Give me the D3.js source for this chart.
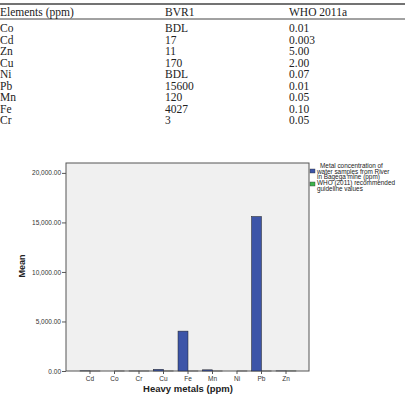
<!DOCTYPE html>
<html>
<head>
<meta charset="utf-8">
<script src="https://cdn.jsdelivr.net/npm/d3@7"></script>
<style>
body { margin: 0; background: #fff; }
</style>
</head>
<body>
<div id="chart"></div>
<script>
// table data
var tableHeader = ["Elements (ppm)", "BVR1", "WHO 2011a"];
var tableElements = ["Co", "Cd", "Zn", "Cu", "Ni", "Pb", "Mn", "Fe", "Cr"];
var tableBVR1 = ["BDL", "17", "11", "170", "BDL", "15600", "120", "4027", "3"];
var tableWHO = ["0.01", "0.003", "5.00", "2.00", "0.07", "0.01", "0.05", "0.10", "0.05"];

// chart data (BDL taken as 0)
var categories = ["Cd", "Co", "Cr", "Cu", "Fe", "Mn", "Ni", "Pb", "Zn"];
var metalValues = [17, 0, 3, 170, 4027, 120, 0, 15600, 11];
var whoValues = [0.003, 0.01, 0.05, 2.00, 0.10, 0.05, 0.07, 0.01, 5.00];
var yTicks = [0, 5000, 10000, 15000, 20000];
var legendLines = [
	["Metal concentration of", "water samples from River", "in Bagega mine (ppm)"],
	["WHO (2011) recommended", "guideline values"]
];

var width = 405, height = 396;

var svg = d3.select("#chart")
	.append("svg")
	.attr("width", width)
	.attr("height", height);

// ---- table ----
var colX = [0, 165, 289];
var table = svg.append("g")
	.style("font-family", "'Liberation Serif', serif")
	.style("font-size", "11.5px")
	.style("fill", "#222");

table.append("line")
	.attr("x1", 0).attr("x2", width)
	.attr("y1", 4).attr("y2", 4)
	.attr("stroke", "#444").attr("stroke-width", 1.5);
table.append("line")
	.attr("x1", 0).attr("x2", width)
	.attr("y1", 19).attr("y2", 19)
	.attr("stroke", "#444").attr("stroke-width", 1);

table.selectAll("text.head")
	.data(tableHeader)
	.enter().append("text")
	.attr("class", "head")
	.attr("x", function (d, i) { return colX[i]; })
	.attr("y", 16)
	.text(function (d) { return d; });

var rowY = d3.scaleLinear().domain([0, 1]).range([32, 43.5]);

var rows = table.selectAll("g.row")
	.data(tableElements)
	.enter().append("g")
	.attr("class", "row")
	.attr("transform", function (d, i) { return "translate(0," + rowY(i) + ")"; });

rows.append("text").attr("x", colX[0]).text(function (d) { return d; });
rows.append("text").attr("x", colX[1]).text(function (d, i) { return tableBVR1[i]; });
rows.append("text").attr("x", colX[2]).text(function (d, i) { return tableWHO[i]; });

// ---- bar chart ----
var plot = { left: 66, right: 309, top: 163, bottom: 371 };

var x = d3.scaleBand()
	.domain(categories)
	.range([77.75, 298.25])
	.padding(0);

var y = d3.scaleLinear()
	.domain([0, 21000])
	.range([plot.bottom, plot.top]);

var g = svg.append("g")
	.style("font-family", "Arial, 'Liberation Sans', sans-serif");

g.append("rect")
	.attr("x", plot.left)
	.attr("y", plot.top)
	.attr("width", plot.right - plot.left)
	.attr("height", plot.bottom - plot.top)
	.attr("fill", "#f0f0f0")
	.attr("stroke", "#555")
	.attr("stroke-width", 1);

var barW = 10;

// WHO bars (green), right half of each group
g.selectAll("rect.who")
	.data(whoValues)
	.enter().append("rect")
	.attr("class", "who")
	.attr("x", function (d, i) { return x(categories[i]) + x.bandwidth() / 2; })
	.attr("y", function (d) { return y(d); })
	.attr("width", barW)
	.attr("height", function (d) { return y(0) - y(d); })
	.attr("fill", "#3cb44b")
	.attr("stroke", "#222")
	.attr("stroke-width", 0.5);

// metal bars (blue), left half of each group
g.selectAll("rect.metal")
	.data(metalValues)
	.enter().append("rect")
	.attr("class", "metal")
	.attr("x", function (d, i) { return x(categories[i]) + x.bandwidth() / 2 - barW; })
	.attr("y", function (d) { return y(d); })
	.attr("width", barW)
	.attr("height", function (d) { return y(0) - y(d); })
	.attr("fill", "#3d55a8")
	.attr("stroke", "#222")
	.attr("stroke-width", 0.5);

// Y axis
var yAxis = d3.axisLeft(y)
	.tickValues(yTicks)
	.tickSize(4)
	.tickFormat(d3.format(",.2f"));

var yg = g.append("g")
	.attr("transform", "translate(" + plot.left + ",0)")
	.call(yAxis);
yg.select(".domain").remove();
yg.selectAll("line").attr("stroke", "#555");
yg.selectAll("text")
	.attr("x", -5)
	.style("font-size", "6.5px")
	.style("font-family", "Arial, 'Liberation Sans', sans-serif")
	.attr("fill", "#333");

// X axis
var xAxis = d3.axisBottom(x)
	.tickSize(3)
	.tickSizeOuter(0);

var xg = g.append("g")
	.attr("transform", "translate(0," + plot.bottom + ")")
	.call(xAxis);
xg.select(".domain").remove();
xg.selectAll("line").attr("stroke", "#555");
xg.selectAll("text")
	.attr("y", 5)
	.style("font-size", "6.5px")
	.style("font-family", "Arial, 'Liberation Sans', sans-serif")
	.attr("fill", "#333");

// axis titles
g.append("text")
	.attr("transform", "translate(25,266) rotate(-90)")
	.attr("text-anchor", "middle")
	.style("font-size", "9px")
	.style("font-weight", "bold")
	.attr("fill", "#222")
	.text("Mean");

g.append("text")
	.attr("x", 188)
	.attr("y", 392)
	.attr("text-anchor", "middle")
	.style("font-size", "9.5px")
	.style("font-weight", "bold")
	.attr("fill", "#222")
	.text("Heavy metals (ppm)");

// legend
var legendColors = ["#3d55a8", "#3cb44b"];
var legendBase = [168, 185];
var legendBox = [169, 182];
var legend = g.selectAll("g.legend")
	.data(legendLines)
	.enter().append("g")
	.attr("class", "legend");

legend.append("rect")
	.attr("x", 310)
	.attr("y", function (d, i) { return legendBox[i]; })
	.attr("width", 5)
	.attr("height", 4)
	.attr("fill", function (d, i) { return legendColors[i]; })
	.attr("stroke", "#333")
	.attr("stroke-width", 0.4);

legend.each(function (lines, i) {
	d3.select(this).selectAll("text")
		.data(lines)
		.enter().append("text")
		.attr("x", function (d, j) { return (i === 0 && j === 0) ? 320 : 317; })
		.attr("y", function (d, j) { return legendBase[i] + j * 5.6; })
		.style("font-size", "6.4px")
		.attr("fill", "#222")
		.text(function (d) { return d; });
});
</script>
</body>
</html>
